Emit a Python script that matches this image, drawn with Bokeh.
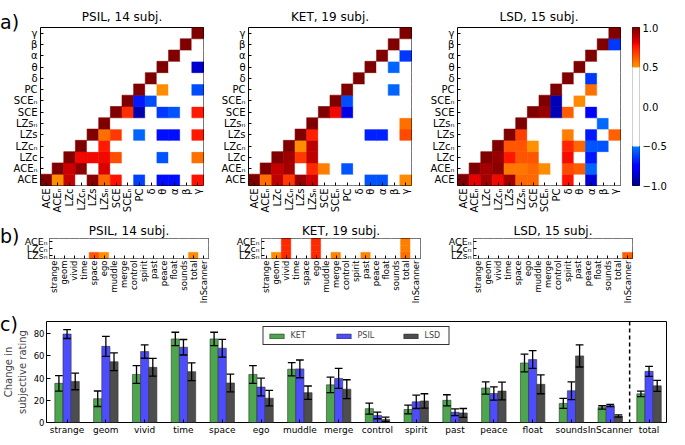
import numpy as np
from bokeh.plotting import figure
from bokeh.layouts import row, column
from bokeh.models import (ColumnDataSource, Legend, LegendItem, FixedTicker,
                          Span, FactorRange, Range1d, LinearAxis, GridBox, Div)
from bokeh.transform import linear_cmap
from bokeh.embed import file_html
from bokeh.resources import INLINE

FONT = "DejaVu Sans"

# ---------------- data ----------------
measures = ["ACE", "ACEₙ", "LZc", "LZcₙ", "LZs", "LZsₙ", "SCE", "SCEₙ",
            "PC", "δ", "θ", "α", "β", "γ"]
titles = ["PSIL, 14 subj.", "KET, 19 subj.", "LSD, 15 subj."]
panel_letters = ["a)", "b)", "c)"]

# upper triangles, row by row starting at the diagonal (0 = not significant)
psil_corr = [
    [1, .52, .88, 0, .98, .60, .78, 0, -.62, 0, -.72, -.72, 0, .78],
    [1, .86, .97, 0, .84, 0, 0, 0, 0, 0, 0, 0, 0],
    [1, .80, .80, .80, .65, 0, 0, 0, -.58, 0, 0, .58],
    [1, 0, .76, 0, 0, 0, 0, 0, 0, 0, 0],
    [1, .58, .70, 0, -.55, 0, -.72, -.72, 0, .76],
    [1, 0, 0, 0, 0, 0, 0, 0, 0],
    [1, .72, -.92, 0, -.64, -.58, 0, .76],
    [1, -.70, -.60, 0, 0, 0, 0],
    [1, 0, .52, 0, 0, -.60],
    [1, 0, 0, 0, 0],
    [1, 0, 0, -.86],
    [1, 0, 0],
    [1, 0],
    [1],
]
ket_corr = [
    [1, .58, .89, .70, .96, .86, 0, 0, 0, 0, -.58, -.58, 0, .53],
    [1, .88, .93, 0, .73, .55, 0, -.58, 0, 0, 0, 0, 0],
    [1, .94, .70, .89, 0, 0, 0, 0, 0, 0, 0, 0],
    [1, .52, .89, 0, 0, 0, 0, 0, 0, 0, 0],
    [1, .75, 0, 0, 0, 0, -.68, -.68, 0, .66],
    [1, 0, 0, 0, 0, 0, 0, 0, .58],
    [1, .80, -.82, 0, 0, 0, 0, 0],
    [1, -.60, 0, 0, 0, 0, 0],
    [1, 0, 0, 0, -.55, 0],
    [1, 0, 0, 0, 0],
    [1, 0, -.55, 0],
    [1, 0, -.64],
    [1, 0],
    [1],
]
lsd_corr = [
    [1, .82, .93, .80, .94, .60, .60, 0, 0, .78, 0, -.84, 0, 0],
    [1, .93, .97, .57, .57, .60, .52, 0, .66, .62, -.55, 0, 0],
    [1, .96, .77, .64, .64, 0, 0, .79, 0, -.70, 0, 0],
    [1, .64, .64, .51, 0, 0, .74, .60, -.58, -.58, 0],
    [1, .68, 0, 0, 0, .55, 0, -.70, 0, .61],
    [1, 0, 0, 0, 0, 0, 0, -.54, 0],
    [1, .96, -.90, .62, 0, -.75, 0, 0],
    [1, -.90, 0, .53, 0, 0, 0],
    [1, 0, 0, .58, 0, 0],
    [1, 0, -.64, 0, 0],
    [1, 0, 0, 0],
    [1, 0, 0],
    [1, -.64],
    [1],
]

sub_measures = ["LZsₙ", "LZcₙ", "ACEₙ"]
ratings_b = ["strange", "geom", "vivid", "time", "space", "ego", "muddle", "merge",
             "control", "spirit", "past", "peace", "float", "sounds", "total", "InScanner"]
psil_sub_ace = [0, 0, 0, 0, 0, 0, 0, 0, 0, 0, 0, 0, 0, 0, 0, 0]
psil_sub_lzc = [0, 0, 0, 0, 0, 0, 0, 0, 0, 0, 0, 0, 0, 0, 0, 0]
psil_sub_lzs = [0, 0, 0, 0, .64, .52, 0, 0, 0, 0, 0, 0, 0, 0, .53, 0]
ket_sub_ace = [0, 0, .73, 0, 0, .73, 0, 0, 0, 0, 0, 0, 0, 0, .55, 0]
ket_sub_lzc = [0, 0, .73, 0, 0, .73, 0, 0, 0, 0, 0, 0, 0, 0, .55, 0]
ket_sub_lzs = [0, .52, .73, 0, 0, .73, 0, .54, 0, 0, .54, 0, 0, 0, .58, 0]
lsd_sub_ace = [0, 0, 0, 0, 0, 0, 0, 0, 0, 0, 0, 0, 0, 0, 0, 0]
lsd_sub_lzc = [0, 0, 0, 0, 0, 0, 0, 0, 0, 0, 0, 0, 0, 0, 0, 0]
lsd_sub_lzs = [0, 0, 0, 0, 0, 0, 0, 0, 0, 0, 0, 0, 0, 0, 0, .62]

ratings_c = ["strange", "geom", "vivid", "time", "space", "ego", "muddle", "merge",
             "control", "spirit", "past", "peace", "float", "sounds", "InScanner", "total"]
ket_mean = [35.3, 21.4, 43.3, 75.3, 75.3, 43.3, 48.0, 33.9, 12.5, 11.7, 20.0, 31.1, 53.6, 17.2, 13.6, 25.8]
ket_err = [7, 7, 8, 6, 6, 8, 6, 7, 5, 4, 5, 5.5, 8, 4.5, 1.5, 2.5]
psil_mean = [79.7, 68.6, 63.9, 67.8, 66.9, 31.9, 48.3, 39.7, 6.4, 18.6, 9.2, 26.1, 56.7, 28.6, 15.3, 46.1]
psil_err = [4, 9, 6, 7, 8, 8, 8, 9, 3, 6, 3, 6, 8, 8, 1, 4.5]
lsd_mean = [37.0, 54.7, 49.7, 45.8, 35.6, 21.9, 26.9, 30.0, 2.8, 19.4, 8.6, 28.3, 34.4, 60.0, 5.8, 33.0]
lsd_err = [7.5, 8, 8, 8, 8, 7, 6, 8.5, 2, 6.5, 4, 8, 8.5, 10, 1, 5]

# ---------------- colormap: jet with white centre ----------------
def jet_white(n=256):
    t = np.linspace(0, 1, n)
    r = np.interp(t, [0, .35, .66, .89, 1], [0, 0, 1, 1, .5])
    g = np.interp(t, [0, .125, .375, .64, .91, 1], [0, 0, 1, 1, 0, 0])
    b = np.interp(t, [0, .11, .34, .65, 1], [.5, 1, 1, 0, 0])
    out = []
    for ri, gi, bi, ti in zip(r, g, b, t):
        if abs(2 * ti - 1) < 0.5:
            out.append("#ffffff")
        else:
            out.append("#%02x%02x%02x" % (int(round(ri * 255)), int(round(gi * 255)), int(round(bi * 255))))
    return out

PALETTE = jet_white()


def style_axis(ax, size):
    ax.axis_line_color = None
    ax.major_tick_in = 3
    ax.major_tick_out = 0
    ax.minor_tick_in = 0
    ax.minor_tick_out = 0
    ax.major_tick_line_color = "black"
    ax.major_label_text_font = FONT
    ax.major_label_text_font_size = size
    ax.major_label_text_color = "black"
    ax.major_label_standoff = 3


def base_fig(w, h, l, r, t, b, xr, yr):
    p = figure(width=w, height=h, x_range=xr, y_range=yr, output_backend="svg",
               toolbar_location=None, min_border_left=l, min_border_right=r,
               min_border_top=t, min_border_bottom=b)
    p.grid.visible = False
    p.outline_line_color = "black"
    p.outline_line_width = 1
    p.background_fill_color = "white"
    p.border_fill_color = "white"
    return p


def set_title(p, text, standoff):
    p.title.text = text
    p.title.align = "center"
    p.title.text_font = FONT
    p.title.text_font_size = "12px"
    p.title.text_font_style = "normal"
    p.title.text_color = "black"
    p.title.standoff = standoff


# ---------------- panel a ----------------
A_H, A_T, A_B = 218, 27, 33


def corr_fig(tri, title, w, l, r):
    xs, ys, vs = [], [], []
    for ri, vals in enumerate(tri):
        for k, v in enumerate(vals):
            xs.append(measures[ri + k])
            ys.append(measures[ri])
            vs.append(v)
    src = ColumnDataSource(dict(x=xs, y=ys, v=vs))
    p = base_fig(w, A_H, l, r, A_T, A_B, FactorRange(*measures), FactorRange(*measures))
    cmap = linear_cmap("v", PALETTE, -1, 1)
    p.rect("x", "y", 1, 1, source=src, fill_color=cmap, line_color=cmap, line_width=0.6)
    style_axis(p.xaxis[0], "10px")
    style_axis(p.yaxis[0], "10px")
    p.xaxis.major_label_orientation = np.pi / 2
    set_title(p, title, 8)
    return p


a1 = corr_fig(psil_corr, titles[0], 211, 40, 8)
a2 = corr_fig(ket_corr, titles[1], 208, 37, 8)
a3 = corr_fig(lsd_corr, titles[2], 205, 38, 4)

cb = base_fig(45, A_H, 8, 28, 24, 24, Range1d(0, 1), Range1d(-1, 1))
edges = np.linspace(-1, 1, len(PALETTE) + 1)
cb.quad(left=0, right=1, bottom=edges[:-1], top=edges[1:], fill_color=PALETTE, line_color=PALETTE)
cb.xaxis.visible = False
cb.yaxis.visible = False
cax = LinearAxis(ticker=FixedTicker(ticks=[-1.0, -0.5, 0.0, 0.5, 1.0]))
style_axis(cax, "10px")
cax.major_tick_in = 0
cax.major_label_overrides = {-1.0: "−1.0", -0.5: "−0.5", 0.0: "0.0", 0.5: "0.5", 1.0: "1.0"}
cb.add_layout(cax, "right")

# ---------------- panel b ----------------
B_H, B_T, B_B = 94, 20, 54


def sub_fig(rows, title, w, l, r):
    xs, ys, vs = [], [], []
    for name, vals in zip(sub_measures, rows):
        for rat, v in zip(ratings_b, vals):
            xs.append(rat)
            ys.append(name)
            vs.append(v)
    src = ColumnDataSource(dict(x=xs, y=ys, v=vs))
    p = base_fig(w, B_H, l, r, B_T, B_B, FactorRange(*ratings_b), FactorRange(*sub_measures))
    cmap = linear_cmap("v", PALETTE, -1, 1)
    p.rect("x", "y", 1, 1, source=src, fill_color=cmap, line_color=cmap, line_width=0.6)
    style_axis(p.xaxis[0], "8.5px")
    style_axis(p.yaxis[0], "9.5px")
    p.xaxis.major_label_standoff = 2
    p.yaxis.major_label_standoff = 2
    p.xaxis.major_label_orientation = np.pi / 2
    set_title(p, title, 1)
    return p


b1 = sub_fig([psil_sub_lzs, psil_sub_lzc, psil_sub_ace], titles[0], 216, 49, 8)
b2 = sub_fig([ket_sub_lzs, ket_sub_lzc, ket_sub_ace], titles[1], 212, 45, 8)
b3 = sub_fig([lsd_sub_lzs, lsd_sub_lzc, lsd_sub_ace], titles[2], 241, 45, 37)

# ---------------- panel c ----------------
C_H, C_T, C_B = 125, 9, 13
c = base_fig(669, C_H, 42, 3, C_T, C_B, Range1d(-0.53, 15.45), Range1d(0, 91))
idx = np.arange(len(ratings_c))
bw = 0.21
series = [("KET", ket_mean, ket_err, "#4da64d", -bw),
          ("PSIL", psil_mean, psil_err, "#4d4dff", 0.0),
          ("LSD", lsd_mean, lsd_err, "#4d4d4d", bw)]
items = []
for name, m, e, col, off in series:
    x = idx + off
    m = np.array(m)
    e = np.array(e)
    rend = c.vbar(x=x, top=m, bottom=0, width=bw, fill_color=col, line_color="#333333", line_width=0.6)
    c.segment(x0=x, y0=m - e, x1=x, y1=m + e, line_color="black", line_width=1.3)
    c.segment(x0=x - 0.1, y0=m + e, x1=x + 0.1, y1=m + e, line_color="black", line_width=1.3)
    c.segment(x0=x - 0.1, y0=m - e, x1=x + 0.1, y1=m - e, line_color="black", line_width=1.3)
    items.append(LegendItem(label=name, renderers=[rend]))

c.add_layout(Span(location=14.5, dimension="height", line_color="black",
                  line_dash="4 3", line_width=1.5))

leg = Legend(items=items, orientation="horizontal", location="top_center", margin=5,
             padding=4, spacing=24, label_standoff=5, glyph_width=18, glyph_height=6,
             label_text_font=FONT, label_text_font_size="8px", label_height=8,
             border_line_color="black", border_line_alpha=0.8, background_fill_alpha=1)
c.add_layout(leg)

style_axis(c.xaxis[0], "9px")
style_axis(c.yaxis[0], "8.5px")
c.xaxis.ticker = FixedTicker(ticks=list(idx))
c.xaxis.major_label_overrides = {int(i): n for i, n in zip(idx, ratings_c)}
c.xaxis.major_label_standoff = 2
c.yaxis.ticker = FixedTicker(ticks=[0, 20, 40, 60, 80])
c.yaxis.major_tick_in = 4
c.yaxis.major_label_standoff = 2
c.yaxis.axis_label = "Change in\nsubjective rating"
c.yaxis.axis_label_text_font = FONT
c.yaxis.axis_label_text_font_size = "10px"
c.yaxis.axis_label_text_font_style = "normal"
c.yaxis.axis_label_standoff = 3

main = column(row(a1, a2, a3, cb), row(b1, b2, b3), c)

# panel letters, overlaid on the same grid cell as the charts
TOTAL_H = A_H + B_H + C_H
letter_tops = [13, 227, 315]
spans = "".join(
    '<span style="position:absolute;left:0px;top:%dpx;font-family:\'DejaVu Sans\';'
    'font-size:19px;line-height:19px;color:black;">%s</span>' % (t, s)
    for t, s in zip(letter_tops, panel_letters))
letters = Div(text='<div style="position:relative;width:30px;height:%dpx;">%s</div>' % (TOTAL_H, spans),
              width=30, height=TOTAL_H, margin=0, styles={"pointer-events": "none"})

root = GridBox(children=[(main, 0, 0), (letters, 0, 0)], spacing=0)
open("out.html", "w").write(file_html(root, INLINE))
